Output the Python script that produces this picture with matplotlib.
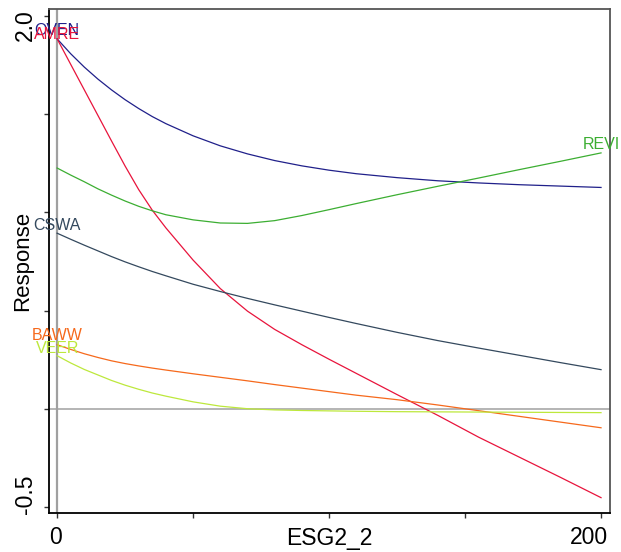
import numpy as np
import matplotlib
matplotlib.use("Agg")
import matplotlib.pyplot as plt
from matplotlib.transforms import ScaledTranslation

plt.rcParams['font.family'] = ['Liberation Sans', 'DejaVu Sans']

# valores
esg = [0, 5, 10, 15, 20, 25, 30, 35, 40, 50, 60, 70, 80, 90, 100, 110, 125, 140, 155, 170, 185, 200]
especies = ['OVEN', 'AMRE', 'REVI', 'CSWA', 'BAWW', 'VEER']
oven = [1.884, 1.808, 1.740, 1.679, 1.624, 1.574, 1.529, 1.488, 1.452, 1.390, 1.339, 1.298,
        1.264, 1.237, 1.215, 1.197, 1.177, 1.161, 1.150, 1.141, 1.134, 1.127]
amre = [1.884, 1.754, 1.624, 1.494, 1.364, 1.236, 1.116, 1.011, 0.921, 0.757, 0.612, 0.497,
        0.404, 0.326, 0.252, 0.180, 0.072, -0.034, -0.145, -0.247, -0.349, -0.453]
revi = [1.226, 1.190, 1.156, 1.120, 1.088, 1.058, 1.031, 1.008, 0.988, 0.962, 0.946, 0.944,
        0.958, 0.984, 1.014, 1.045, 1.090, 1.133, 1.175, 1.218, 1.260, 1.303]
cswa = [0.894, 0.863, 0.833, 0.804, 0.775, 0.748, 0.723, 0.699, 0.677, 0.634, 0.597, 0.562,
        0.529, 0.497, 0.465, 0.434, 0.389, 0.347, 0.309, 0.272, 0.235, 0.199]
baww = [0.326, 0.302, 0.280, 0.261, 0.244, 0.230, 0.218, 0.207, 0.197, 0.178, 0.160, 0.142,
        0.123, 0.105, 0.087, 0.069, 0.046, 0.019, -0.010, -0.039, -0.068, -0.097]
veer = [0.270, 0.233, 0.200, 0.172, 0.144, 0.120, 0.099, 0.080, 0.064, 0.035, 0.013, 0.000,
        -0.006, -0.009, -0.011, -0.013, -0.015, -0.016, -0.017, -0.018, -0.019, -0.020]
respuestas = [oven, amre, revi, cswa, baww, veer]

xticks = [0, 50, 100, 150, 200]
xtick_labels = ['0', '', '', '', '200']
yticks = [-0.5, 0.0, 0.5, 1.0, 1.5, 2.0]
ytick_labels = ['-0.5', '', '', '', '', '2.0']

colores = ['#20208a', '#e8143c', '#3cae32', '#34495e', '#f6691c', '#bde83c']
# donde va la etiqueta: al inicio o al final de la curva, y un poco arriba
lado = {'OVEN': 0, 'AMRE': 0, 'REVI': -1, 'CSWA': 0, 'BAWW': 0, 'VEER': 0}
subir = {'OVEN': 0.045, 'AMRE': 0.02, 'REVI': 0.041, 'CSWA': 0.041, 'BAWW': 0.046, 'VEER': 0.035}

fig = plt.figure(figsize=(6.21, 5.52), dpi=100)
ax = fig.add_axes([0.0784, 0.0707, 0.9039, 0.913])

ax.axhline(0, color='#a0a0a0', lw=1.1, zorder=1)
ax.axvline(0, color='#a0a0a0', lw=1.6, zorder=1)

for nombre, resp, col in zip(especies, respuestas, colores):
    ax.plot(esg, resp, color=col, lw=0.9, zorder=2)
    i = lado[nombre]
    ax.text(esg[i], resp[i] + subir[nombre], nombre, color=col, fontsize=11.5,
            ha='center', va='center', clip_on=False, zorder=3)

ax.set_xlim(-3.1, 203.3)
ax.set_ylim(-0.531, 2.036)

ax.set_xticks(xticks)
ax.set_xticklabels(xtick_labels, fontsize=16.5)
ax.set_yticks(yticks)
ax.set_yticklabels(ytick_labels, fontsize=16.5, rotation=90, va='center')
ax.tick_params(axis='both', direction='out', length=3.5, width=1, color='#333333')
ax.tick_params(axis='x', pad=6)
ax.tick_params(axis='y', pad=5)

# correr un poco las etiquetas de los extremos hacia adentro
ylabs = ax.get_yticklabels()
ylabs[-1].set_transform(ylabs[-1].get_transform() + ScaledTranslation(0, -0.09, fig.dpi_scale_trans))
ylabs[0].set_transform(ylabs[0].get_transform() + ScaledTranslation(0, 0.13, fig.dpi_scale_trans))
xlabs = ax.get_xticklabels()
xlabs[-1].set_transform(xlabs[-1].get_transform() + ScaledTranslation(-0.12, 0, fig.dpi_scale_trans))
xlabs[0].set_transform(xlabs[0].get_transform() + ScaledTranslation(-0.015, 0, fig.dpi_scale_trans))

ax.set_xlabel('ESG2_2', fontsize=16.5, va='center')
ax.xaxis.set_label_coords(0.5, -0.05)
ax.set_ylabel('Response', fontsize=16, va='center')
ax.yaxis.set_label_coords(-0.047, 0.5)

for lado_spine in ['left', 'bottom']:
    ax.spines[lado_spine].set_color('black')
    ax.spines[lado_spine].set_linewidth(1.3)
for lado_spine in ['top', 'right']:
    ax.spines[lado_spine].set_color('#555555')
    ax.spines[lado_spine].set_linewidth(1.3)

fig.savefig('out.png', dpi=100)
